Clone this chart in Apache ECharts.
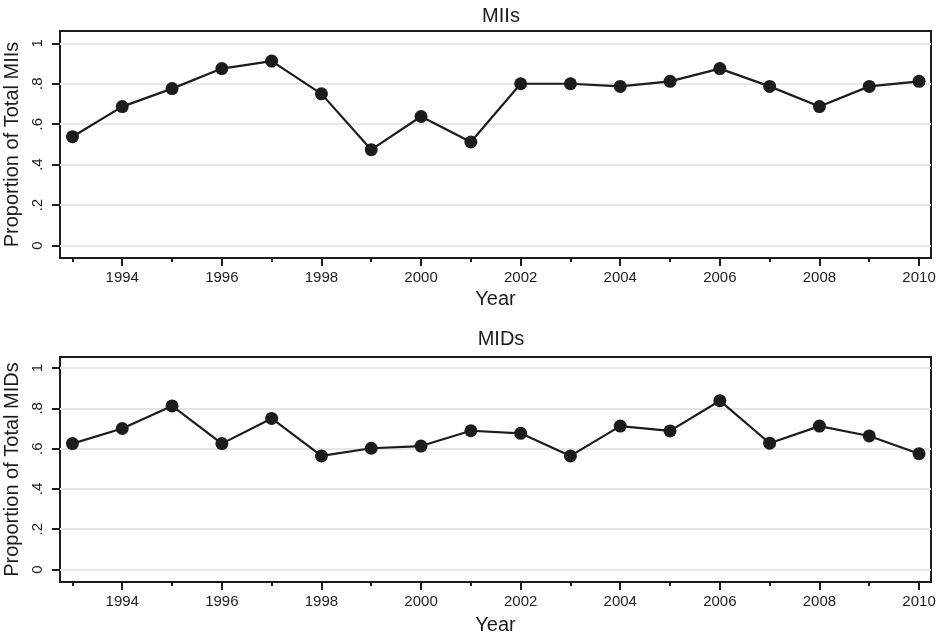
<!DOCTYPE html>
<html>
<head>
<meta charset="utf-8">
<script src="https://cdn.jsdelivr.net/npm/echarts@6/dist/echarts.min.js"></script>
<style>html,body{margin:0;padding:0;background:#fff}#c{width:938px;height:640px}</style>
</head>
<body>
<div id="c"></div>
<script>
const years = [1993,1994,1995,1996,1997,1998,1999,2000,2001,2002,2003,2004,2005,2006,2007,2008,2009,2010];
const miis = [0.538,0.687,0.776,0.875,0.912,0.750,0.474,0.638,0.512,0.800,0.800,0.787,0.812,0.875,0.787,0.687,0.787,0.812];
const mids = [0.625,0.700,0.812,0.625,0.750,0.564,0.602,0.613,0.689,0.676,0.564,0.712,0.688,0.838,0.627,0.712,0.663,0.575];
const yTicks = [0,0.2,0.4,0.6,0.8,1];
const xMajor = [1994,1996,1998,2000,2002,2004,2006,2008,2010];
const xMinor = [1993,1995,1997,1999,2001,2003,2005,2007,2009];
const panelTitles = ['MIIs','MIDs'];
const yTitles = ['Proportion of Total MIIs','Proportion of Total MIDs'];
const xTitle = 'Year';

const FONT = 'Liberation Sans, Arial, sans-serif';
const INK = '#1c1c1c';
const chart = echarts.init(document.getElementById('c'), null, {renderer:'canvas'});

const grids = [
  {left:60, top:31, right:7, height:227, show:true, borderColor:INK, borderWidth:2, backgroundColor:'transparent', containLabel:false, outerBoundsMode:'none'},
  {left:60, top:357, right:7, height:225, show:true, borderColor:INK, borderWidth:2, backgroundColor:'transparent', containLabel:false, outerBoundsMode:'none'}
];
const yRanges = [[-0.062,1.061],[-0.062,1.055]];
const xNameGaps = [31, 33];
function yFmt(v){ if(v===0) return '0'; if(v===1) return '1'; return String(v).replace(/^0\./,'.'); }

const xAxes = [], yAxes = [], series = [];
[0,1].forEach(i=>{
  xAxes.push({
    type:'value', gridIndex:i, min:1992.75, max:2010.24, position:'bottom',
    name:xTitle, nameLocation:'middle', nameGap:xNameGaps[i],
    nameTextStyle:{fontFamily:FONT, fontSize:20, color:INK},
    axisLine:{show:false, onZero:false},
    axisTick:{show:true, length:8, lineStyle:{color:INK, width:2}, customValues:xMajor},
    axisLabel:{show:true, customValues:xMajor, margin:12, fontFamily:FONT, fontSize:15, color:INK, formatter:v=>String(v)},
    splitLine:{show:false}
  });
  xAxes.push({
    type:'value', gridIndex:i, min:1992.75, max:2010.24, position:'bottom',
    axisLine:{show:false, onZero:false},
    axisTick:{show:true, length:4, lineStyle:{color:INK, width:2}, customValues:xMinor},
    axisLabel:{show:false},
    splitLine:{show:false}
  });
  yAxes.push({
    type:'value', gridIndex:i, min:yRanges[i][0], max:yRanges[i][1], position:'left',
    name:yTitles[i], nameLocation:'middle', nameRotate:90, nameGap:29,
    nameTextStyle:{fontFamily:FONT, fontSize:20, color:INK},
    axisLine:{show:false, onZero:false},
    axisTick:{show:true, inside:false, length:8, lineStyle:{color:INK, width:2}, customValues:yTicks},
    axisLabel:{show:true, customValues:yTicks, rotate:90, margin:15, fontFamily:FONT, fontSize:15, color:INK, formatter:yFmt},
    splitLine:{show:true, lineStyle:{color:'#e6e6e6', width:2}}
  });
  const vals = i===0 ? miis : mids;
  series.push({
    type:'line', xAxisIndex:i*2, yAxisIndex:i,
    data: years.map((y,k)=>[y, vals[k]]),
    symbol:'circle', symbolSize:13, showAllSymbol:true,
    lineStyle:{color:INK, width:2.2}, itemStyle:{color:INK},
    animation:false, z:5
  });
});

chart.setOption({
  animation:false,
  backgroundColor:'#fff',
  title:[
    {text:panelTitles[0], left:496, top:1, textAlign:'center', textStyle:{fontFamily:FONT, fontSize:20, fontWeight:'normal', color:INK}},
    {text:panelTitles[1], left:496, top:324, textAlign:'center', textStyle:{fontFamily:FONT, fontSize:20, fontWeight:'normal', color:INK}}
  ],
  grid:grids, xAxis:xAxes, yAxis:yAxes, series:series
});
</script>
</body>
</html>
